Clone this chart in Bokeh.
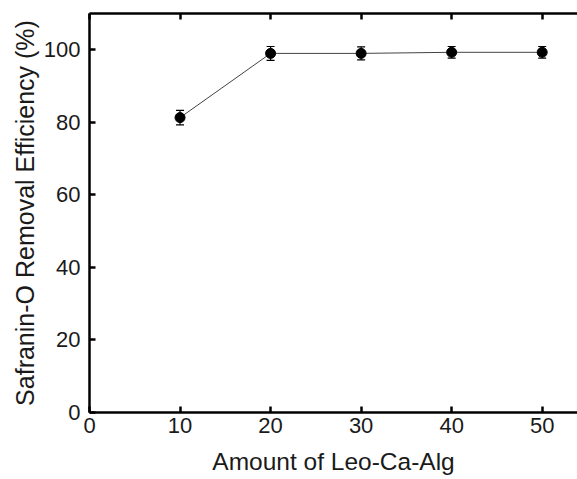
from bokeh.plotting import figure
from bokeh.models import (ColumnDataSource, Whisker, TeeHead, LinearAxis, FixedTicker,
                          Range1d, CustomLabelingPolicy)
from bokeh.embed import file_html
from bokeh.resources import INLINE

# Data
amount = [10, 20, 30, 40, 50]
efficiency = [81.3, 99.0, 99.0, 99.3, 99.3]
error = [2.0, 1.9, 1.8, 1.6, 1.6]
x_ticks = [0, 10, 20, 30, 40, 50]
y_ticks = [0, 20, 40, 60, 80, 100]

src = ColumnDataSource(dict(
    x=amount, y=efficiency,
    upper=[v + e for v, e in zip(efficiency, error)],
    lower=[v - e for v, e in zip(efficiency, error)],
))

FONT = "Liberation Sans"
TXT = "#1a1a1a"

p = figure(width=577, height=479, output_backend="svg", toolbar_location=None,
           x_range=Range1d(0, 53.9), y_range=Range1d(0, 110),
           min_border_left=89, min_border_right=0, min_border_top=13, min_border_bottom=67)
p.outline_line_color = None
p.grid.visible = False
p.background_fill_color = "white"
p.border_fill_color = "white"

for ax, ticks in ((p.xaxis[0], x_ticks), (p.yaxis[0], y_ticks)):
    ax.ticker = FixedTicker(ticks=ticks)
    ax.axis_line_width = 2.5
    ax.axis_line_color = "black"
    ax.major_tick_line_width = 2.5
    ax.major_tick_line_color = "black"
    ax.major_tick_in = 6
    ax.major_tick_out = 0
    ax.minor_tick_line_color = None
    ax.major_label_text_font = FONT
    ax.major_label_text_font_size = "22px"
    ax.major_label_text_color = TXT
    ax.axis_label_text_font = FONT
    ax.axis_label_text_font_style = "normal"
    ax.axis_label_text_color = TXT

p.xaxis.axis_label = "Amount of Leo-Ca-Alg"
p.yaxis.axis_label = "Safranin-O Removal Efficiency (%)"
p.xaxis.axis_label_text_font_size = "24.5px"
p.yaxis.axis_label_text_font_size = "25px"
p.xaxis.major_label_standoff = 5
p.xaxis.axis_label_standoff = 12
p.yaxis.major_label_standoff = 9
p.yaxis.axis_label_standoff = 2

top = LinearAxis(ticker=FixedTicker(ticks=x_ticks))
top.axis_line_width = 2.5
top.axis_line_color = "black"
top.major_tick_line_width = 2.5
top.major_tick_line_color = "black"
top.major_tick_in = 6
top.major_tick_out = 0
top.minor_tick_line_color = None
top.major_label_standoff = 0
top.major_label_policy = CustomLabelingPolicy(
    code="for (const i of [...indices]) { indices.unset(i) } return indices")
p.add_layout(top, "above")

p.line("x", "y", source=src, line_color="#444444", line_width=1)
p.add_layout(Whisker(source=src, base="x", upper="upper", lower="lower",
                     line_color="black", line_width=1.2,
                     upper_head=TeeHead(size=8, line_color="black", line_width=1.2),
                     lower_head=TeeHead(size=8, line_color="black", line_width=1.2)))
p.scatter("x", "y", source=src, marker="circle", size=10, fill_color="black", line_color="black")

open("out.html", "w").write(file_html(p, INLINE))
